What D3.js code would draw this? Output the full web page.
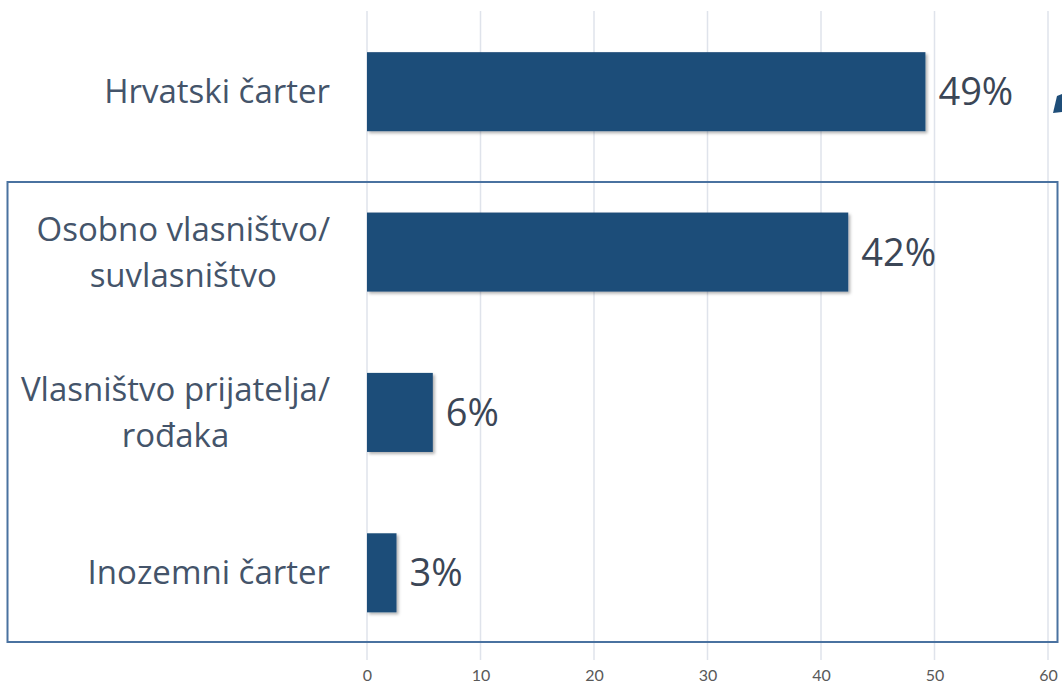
<!DOCTYPE html>
<html>
<head>
<meta charset="utf-8">
<script src="https://cdn.jsdelivr.net/npm/d3@7"></script>
<style>
  body { margin: 0; background: #fff; }
  svg { display: block; }
  .catLabel { font-family: "Open Sans", "Noto Sans", sans-serif; fill: #44546a; }
  .valLabel { font-family: "Open Sans", "Noto Sans", sans-serif; fill: #3b4656; }
  .tick text { font-family: "Liberation Sans Narrow", "Lato", sans-serif; fill: #595959; }
</style>
</head>
<body>
<svg id="chart" width="1062" height="689"></svg>
<script>
"use strict";

// chart data
const categories = ["Hrvatski čarter", "Osobno vlasništvo/ suvlasništvo", "Vlasništvo prijatelja/ rođaka", "Inozemni čarter"];
const categoryLines = [["Hrvatski čarter"], ["Osobno vlasništvo/", "suvlasništvo"], ["Vlasništvo prijatelja/", "rođaka"], ["Inozemni čarter"]];
const values = [49.2, 42.4, 5.8, 2.6];
const valueLabels = ["49%", "42%", "6%", "3%"];
const tickValues = [0, 10, 20, 30, 40, 50, 60];

const svg = d3.select("#chart");

/* scales */
const xScale = d3.scaleLinear().domain([0, 60]).range([367, 1048]);
const yScale = d3.scaleBand()
    .domain(categories)
    .range([11.5, 653])
    .paddingInner(0.507)
    .paddingOuter(0.2535);

/* shadow filter for bars */
const defs = svg.append("defs");
const shadow = defs.append("filter").attr("id", "shadow")
    .attr("x", "-10%").attr("y", "-10%").attr("width", "130%").attr("height", "130%");
shadow.append("feDropShadow")
    .attr("dx", 2).attr("dy", 2).attr("stdDeviation", 1.5)
    .attr("flood-color", "#000").attr("flood-opacity", 0.3);

/* vertical gridlines */
svg.append("g").attr("class", "grid")
    .selectAll("line")
    .data(tickValues)
    .enter().append("line")
    .attr("x1", d => xScale(d)).attr("x2", d => xScale(d))
    .attr("y1", 11).attr("y2", 660)
    .attr("stroke", "#dfe3eb")
    .attr("stroke-width", 1.5);

/* x axis labels */
const xAxis = d3.axisBottom(xScale).tickValues(tickValues).tickSize(0).tickPadding(0);
svg.append("g")
    .attr("transform", "translate(0,670)")
    .call(xAxis)
    .call(g => g.select(".domain").remove())
    .selectAll("text")
    .style("font-size", "16px");

/* bars */
svg.append("g").attr("class", "bars")
    .selectAll("rect")
    .data(categories)
    .enter().append("rect")
    .attr("x", xScale(0))
    .attr("y", d => yScale(d))
    .attr("width", (d, i) => xScale(values[i]) - xScale(0))
    .attr("height", yScale.bandwidth())
    .attr("fill", "#1f4e79")
    .attr("filter", "url(#shadow)");

/* value labels */
svg.append("g").attr("class", "values")
    .selectAll("text")
    .data(categories)
    .enter().append("text")
    .attr("class", "valLabel")
    .attr("x", (d, i) => xScale(values[i]) + 13)
    .attr("y", d => yScale(d) + yScale.bandwidth() / 2)
    .attr("dy", "0.36em")
    .style("font-size", "38px")
    .text((d, i) => valueLabels[i]);

/* category labels: block right-aligned at x=330, lines centred inside the block */
const catG = svg.append("g").attr("class", "cats");
categories.forEach((c, i) => {
  const lines = categoryLines[i];
  const lineH = 46;
  const cy = yScale(c) + yScale.bandwidth() / 2;
  const t = catG.append("text")
      .attr("class", "catLabel")
      .attr("text-anchor", "middle")
      .style("font-size", "33px");
  const spans = lines.map((ln, j) => t.append("tspan")
      .attr("y", cy + (j - (lines.length - 1) / 2) * lineH)
      .attr("dy", "0.35em")
      .text(ln));
  const maxW = d3.max(spans, s => s.node().getComputedTextLength());
  spans.forEach(s => s.attr("x", 330 - maxW / 2));
});

/* highlight box around lower categories */
svg.append("rect")
    .attr("x", 7.5).attr("y", 182)
    .attr("width", 1050).attr("height", 460)
    .attr("fill", "none")
    .attr("stroke", "#4a72a0")
    .attr("stroke-width", 2);

/* cut-off decoration at right edge */
svg.append("path")
    .attr("d", "M1057,96 L1062,94 L1062,112 L1053,113 Z")
    .attr("fill", "#1f4e79");
</script>
</body>
</html>
